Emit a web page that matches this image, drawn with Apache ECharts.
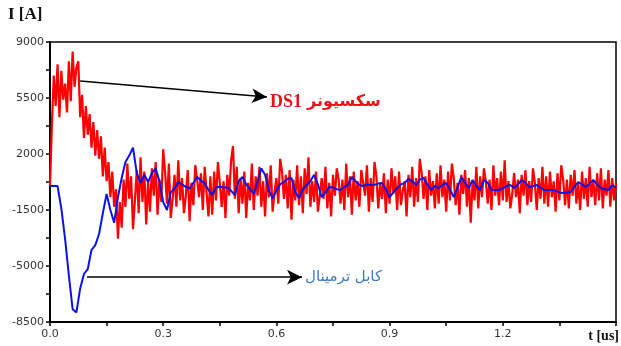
<!DOCTYPE html>
<html>
<head>
<meta charset="utf-8">
<script src="https://cdn.jsdelivr.net/npm/echarts@6/dist/echarts.min.js"></script>
<style>
  html, body { margin: 0; padding: 0; background: #fff; }
  #chart { width: 621px; height: 346px; }
</style>
</head>
<body>
<div id="chart"></div>
<script>
// Current recorded at the DS1 disconnector (sampled every 0.005 us), in A
const dtDisconnector = 0.005;
const disconnectorCurrent = [
  0, 3800, 6900, 5000, 7600, 4300, 7200, 5400, 6400, 4600,
  7800, 5300, 8400, 6200, 7400, 7800, 4300, 5700, 3000, 5000,
  3200, 4500, 2400, 4000, 1900, 3500, 1700, 3100, 600, 2400,
  300, 1500, -700, 900, -1300, -200, -3300, -1000, -2600, 400,
  -1300, 1400, -800, 600, -2700, -900, 1000, -1700, 1800, -1000,
  900, -2400, 300, -1600, 1100, -600, 1500, -1800, 400, -1000,
  2300, 900, -1100, 1400, -2000, -800, 700, -1300, 1600, -900,
  500, -1700, -600, 1000, -2200, 200, -1200, 1300, 400, -700,
  800, -1500, 1200, -400, -1900, 600, -1800, 900, -900, 1500,
  200, -1300, 300, -2000, 700, -600, 1600, 2500, -800, 1200,
  -1700, 500, -1100, 900, -2000, 200, -900, 1400, -1500, 600,
  -600, 1200, -1300, 300, -1900, 800, -700, 1300, -1600, -400,
  500, -1100, 1700, 900, -800, 700, -1400, 1000, -2100, 400,
  -900, 1300, -1200, 600, -1700, 1100, -500, 1800, -1300, 300,
  -1000, 900, -1600, -600, 500, -800, 1200, -1400, 200, -1900,
  700, -600, 1100, 400, -1100, 400, -1500, 1400, -700, 600,
  -1800, 900, -900, 300, -1300, 1000, 200, -600, 1300, -1600,
  500, -1000, 1500, 600, -1400, 200, -800, 800, -1700, 400,
  -1100, 1100, -500, 600, -1500, 900, -1200, -300, 300, -1900,
  700, -700, 1200, -1300, 500, -1000, 1700, 800, -800, 600,
  -1500, 1000, -600, 300, -1400, 800, -1100, 1300, -700, 400,
  -1600, 900, -900, 1400, 500, -1200, 200, -1800, 700, -500,
  1000, -1300, 500, -2300, 300, -900, 1200, -1400, 600, -700,
  1100, 300, -1100, 400, -1500, 1300, -600, 500, -1200, 900,
  -900, 1600, -1000, 300, -1400, -500, 800, -700, 400, -1700,
  700, -600, 1000, -1200, 300, -1000, 1100, 200, -1500, 500,
  -800, 1200, -1100, 600, -1300, 900, -700, 300, -1600, 800,
  -900, 1300, 400, -1200, 400, -1400, 700, -600, 1000, -1100,
  200, -1500, 900, -800, 500, -1300, 1200, -700, 300, -1200,
  800, -900, 1100, -1400, 400, -600, 1000, -1300, 500, -900,
  200
];

// Current at the cable terminal (sampled every 0.01 us), in A
const dtCable = 0.01;
const cableCurrent = [
  0, 0, 0, -1400, -3300, -5600, -7700, -7900, -6400, -5500,
  -5200, -4000, -3700, -3000, -1700, -500, -1500, -2300, -700, 500,
  1500, 1900, 2400, 800, 200, 700, 250, 800, 1100, 300,
  -1000, -1500, -400, -150, 250, 100, -60, -150, 200, 560,
  350, 150, -250, -560, -100, -50, -100, -80, -300, -560,
  300, 560, 100, -200, -500, 300, 1100, 700, -300, -750,
  -300, 100, 250, 450, 500, -400, -750, -200, 60, 300,
  700, 100, -700, -400, -60, -100, -200, -250, -50, 60,
  560, 300, 60, 0, 100, 60, 80, 150, 190, -200,
  -700, -400, -125, 100, 190, 450, 300, 60, 400, 500,
  100, -250, 0, -125, 50, 190, -200, -690, -100, 560,
  200, -125, 375, 0, -250, 375, 200, -250, -250, -250,
  -150, 0, 60, -125, 100, 375, 200, -60, -20, 60,
  -100, -250, -250, -250, -300, -400, -440, -400, -375, -50,
  250, 100, -60, 150, 375, 100, -125, -200, -250, 60,
  -100
];

// Axis settings
const timeMin = 0, timeMax = 1.5, timeStep = 0.3;
const currentMin = -8500, currentMax = 9000, currentStep = 3500;

// Annotation arrows: [time, current] of the start and the arrow tip
const disconnectorArrow = [[0.08, 6560], [0.575, 5560]];
const cableArrow = [[0.098, -5700], [0.668, -5700]];
const disconnectorLabel = ['DS1', 'سکسیونر'];
const cableLabel = 'کابل ترمینال';

const toPairs = (values, dt) => values.map((v, i) => [+(i * dt).toFixed(4), v]);

const arrowLine = (pts) => ({
  silent: true,
  animation: false,
  symbol: ['none', 'arrow'],
  symbolSize: [11, 15],
  lineStyle: { color: '#000', width: 1.5, type: 'solid' },
  emphasis: { disabled: true },
  data: [[{ coord: pts[0] }, { coord: pts[1] }]]
});

const chart = echarts.init(document.getElementById('chart'), null, { renderer: 'canvas' });

const axisCommon = {
  axisLine: { show: true, onZero: false, lineStyle: { color: '#000', width: 2 } },
  axisTick: { show: true, length: 4, lineStyle: { color: '#000', width: 1.5 } },
  minorTick: { show: true, splitNumber: 2, length: 4, lineStyle: { color: '#000', width: 1.5 } },
  splitLine: { show: false },
  axisLabel: { color: '#333', fontFamily: 'DejaVu Sans', fontSize: 11 }
};

chart.setOption({
  animation: false,
  backgroundColor: '#fff',
  grid: {
    left: 50, right: 5, top: 42, bottom: 24,
    show: true, borderColor: '#000', borderWidth: 1.5, backgroundColor: 'transparent'
  },
  xAxis: Object.assign({}, axisCommon, {
    type: 'value',
    min: timeMin, max: timeMax, interval: timeStep,
    axisLabel: Object.assign({}, axisCommon.axisLabel, {
      margin: 7,
      formatter: (v) => (Math.abs(v - timeMax) < 1e-6 ? '' : v.toFixed(1))
    })
  }),
  yAxis: Object.assign({}, axisCommon, {
    type: 'value',
    min: currentMin, max: currentMax, interval: currentStep,
    axisLabel: Object.assign({}, axisCommon.axisLabel, {
      margin: 6,
      formatter: (v) => String(Math.round(v))
    })
  }),
  graphic: [
    {
      type: 'text', left: 8, top: 6,
      style: { text: 'I [A]', font: 'bold 17px "Liberation Serif"', fill: '#111' }
    },
    {
      type: 'text', right: 2, top: 329,
      style: { text: 't [us]', font: 'bold 14px "Liberation Serif"', fill: '#111' }
    }
  ],
  series: [
    {
      name: disconnectorLabel.join(' '),
      type: 'line',
      data: toPairs(disconnectorCurrent, dtDisconnector),
      showSymbol: false,
      symbol: 'none',
      lineStyle: { color: '#ff0000', width: 2.2 },
      z: 2,
      markLine: Object.assign(arrowLine(disconnectorArrow), {
        label: {
          show: true, position: 'end', distance: 3, offset: [0, 5],
          formatter: '{a|' + disconnectorLabel[0] + '}{s| }{b|' + disconnectorLabel[1] + '}',
          rich: {
            a: { fontFamily: 'Liberation Serif', fontWeight: 'bold', fontSize: 18, color: '#e8141c' },
            s: { fontSize: 10, width: 5 },
            b: { fontFamily: 'DejaVu Sans', fontWeight: 'bold', fontSize: 16, color: '#e8141c' }
          }
        }
      })
    },
    {
      name: cableLabel,
      type: 'line',
      data: toPairs(cableCurrent, dtCable),
      showSymbol: false,
      symbol: 'none',
      lineStyle: { color: '#0a14e6', width: 2 },
      z: 3,
      markLine: Object.assign(arrowLine(cableArrow), {
        label: {
          show: true, position: 'end', distance: 3,
          formatter: cableLabel,
          fontFamily: 'DejaVu Sans', fontSize: 15, color: '#3a7cc6'
        }
      })
    }
  ]
});
</script>
</body>
</html>
